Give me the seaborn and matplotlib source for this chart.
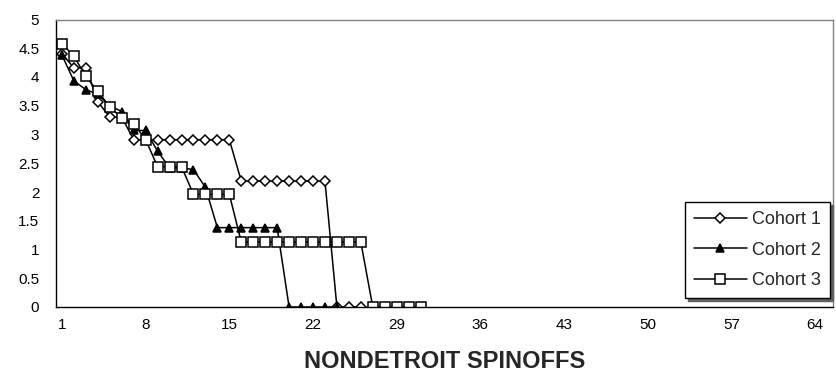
import matplotlib
matplotlib.use("Agg")
import matplotlib.pyplot as plt
import seaborn as sns
import pandas as pd

# ---- data ----
cohort1 = [4.40, 4.16, 4.16, 3.57, 3.30, 3.30, 2.91, 2.91, 2.91, 2.91, 2.91, 2.91, 2.91,
           2.91, 2.91, 2.19, 2.19, 2.19, 2.19, 2.19, 2.19, 2.19, 2.19, 0, 0, 0]
cohort2 = [4.38, 3.93, 3.78, 3.70, 3.50, 3.40, 3.07, 3.07, 2.71, 2.42, 2.42, 2.39, 2.08,
           1.38, 1.38, 1.38, 1.38, 1.38, 1.38, 0, 0, 0, 0, 0]
cohort3 = [4.58, 4.36, 4.01, 3.75, 3.48, 3.29, 3.19, 2.91, 2.44, 2.44, 2.44, 1.96, 1.96,
           1.96, 1.96, 1.13, 1.13, 1.13, 1.13, 1.13, 1.13, 1.13, 1.13, 1.13, 1.13, 1.13,
           0, 0, 0, 0, 0]
series_names = ["Cohort 1", "Cohort 2", "Cohort 3"]
n_categories = 65
x_tick_labels = [1, 8, 15, 22, 29, 36, 43, 50, 57, 64]
y_ticks = [0, 0.5, 1, 1.5, 2, 2.5, 3, 3.5, 4, 4.5, 5]
x_title = "NONDETROIT SPINOFFS"

frames = []
for name, vals in zip(series_names, [cohort1, cohort2, cohort3]):
    frames.append(pd.DataFrame({"x": range(1, len(vals) + 1), "y": vals, "series": name}))
df = pd.concat(frames, ignore_index=True)

sns.set_style("white")
plt.rcParams["font.family"] = ["Liberation Sans", "DejaVu Sans"]

W, H = 836, 390
fig = plt.figure(figsize=(W / 100, H / 100), dpi=100)
left, right, top, bottom = 56, 833, 19.5, 307
ax = fig.add_axes([left / W, 1 - bottom / H, (right - left) / W, (bottom - top) / H])

styles = {
    "Cohort 1": dict(marker="D", markersize=4.6, markerfacecolor="white"),
    "Cohort 2": dict(marker="^", markersize=6.3, markerfacecolor="black"),
    "Cohort 3": dict(marker="s", markersize=7.2, markerfacecolor="white"),
}
for name in series_names:
    sub = df[df["series"] == name]
    sns.lineplot(data=sub, x="x", y="y", ax=ax, color="black", linewidth=1.1,
                 markeredgecolor="black", markeredgewidth=1.1, label=name,
                 estimator=None, **styles[name])

ax.set_xlim(0.5, n_categories + 0.5)
ax.set_ylim(0, 5)
ax.set_yticks(y_ticks)
ax.set_yticklabels([f"{v:g}" for v in y_ticks])
ax.set_xticks(x_tick_labels)
ax.set_xticklabels([str(v) for v in x_tick_labels])
ax.set_xticks([0.5 + 7 * k for k in range(10)], minor=True)
ax.tick_params(axis="x", which="major", length=0, pad=8, labelsize=11, colors="black")
ax.tick_params(axis="x", which="minor", length=5, width=1, direction="out", color="black")
ax.tick_params(axis="y", which="major", length=5, width=1, direction="out", pad=7,
               labelsize=11, colors="black")

ax.set_xlabel("")
ax.set_ylabel("")
fig.text((left + right) / 2 / W, 1 - 362 / H, x_title, fontsize=17, fontweight="bold",
         ha="center", va="center")

for s in ["left", "bottom"]:
    ax.spines[s].set_color("black")
    ax.spines[s].set_linewidth(1)
for s in ["top", "right"]:
    ax.spines[s].set_color("#808080")
    ax.spines[s].set_linewidth(1)

leg = ax.legend(loc="lower right", bbox_to_anchor=(0.996, 0.031), borderaxespad=0,
                frameon=True, fancybox=False, edgecolor="black", fontsize=13,
                handlelength=2.9, labelspacing=0.75, borderpad=0.5, handletextpad=0.3,
                shadow={"color": "#606060", "alpha": 1})
leg.get_frame().set_linewidth(1)

fig.savefig("out.png", dpi=100, facecolor="white")
